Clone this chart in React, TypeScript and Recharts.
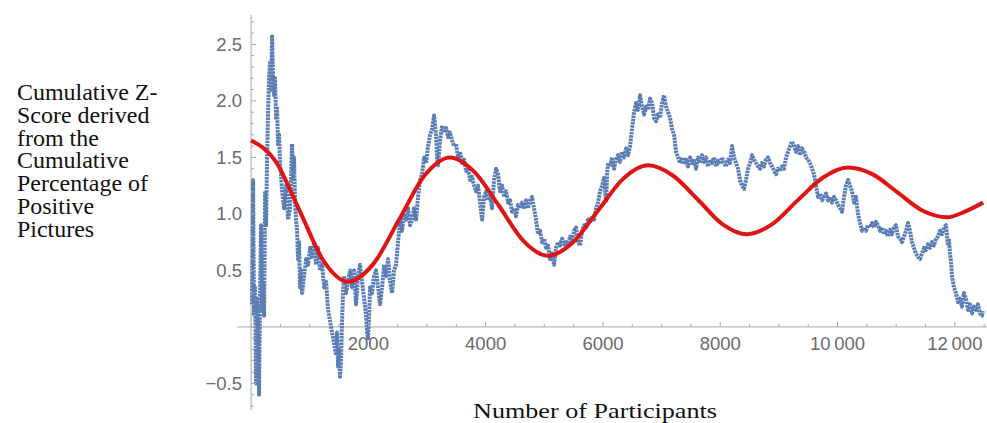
import { ComposedChart, Line, XAxis, YAxis, ReferenceLine } from "recharts";

// cumulative z-score readings: [participants, z]
const observed: [number, number][] = [
  [17, 0.2], [34, 1.3], [51, 0.1], [68, 0.35], [85, -0.5], [102, 0.25], [119, 0.05], [136, -0.6],
  [153, 0.3], [170, 0.9], [188, 0.15], [205, 0.4], [222, 0.1], [239, 1.2], [256, 0.9], [273, 1.5],
  [290, 1.9], [307, 2.2], [324, 2.35], [341, 2.1], [358, 2.57], [375, 2.2], [392, 2.05], [409, 2.2],
  [426, 1.85], [443, 1.95], [460, 1.6], [477, 1.7], [494, 1.45], [511, 1.35], [529, 1.2], [563, 1.05],
  [597, 1.25], [631, 0.95], [665, 1.05], [699, 1.62], [716, 1.3], [733, 1.5], [750, 1.1], [767, 0.95],
  [784, 0.85], [801, 0.6], [818, 0.75], [835, 0.35], [852, 0.5], [870, 0.3], [904, 0.45], [938, 0.6],
  [972, 0.55], [1006, 0.7], [1040, 0.62], [1074, 0.75], [1108, 0.55], [1142, 0.7], [1176, 0.5],
  [1211, 0.55], [1245, 0.35], [1279, 0.4], [1313, 0.15], [1347, 0.05], [1381, -0.05], [1415, -0.15],
  [1449, -0.25], [1466, -0.05], [1483, -0.35], [1500, -0.2], [1517, -0.44], [1534, -0.3], [1551, 0.05],
  [1568, 0.3], [1586, 0.45], [1620, 0.3], [1654, 0.4], [1688, 0.5], [1722, 0.35], [1756, 0.5],
  [1790, 0.2], [1824, 0.45], [1858, 0.55], [1892, 0.4], [1927, 0.25], [1961, 0.1], [1978, -0.05],
  [1995, -0.1], [2012, 0.1], [2029, 0.35], [2063, 0.3], [2097, 0.45], [2131, 0.5], [2165, 0.35],
  [2199, 0.2], [2234, 0.35], [2268, 0.55], [2302, 0.45], [2336, 0.6], [2370, 0.4], [2404, 0.3],
  [2438, 0.5], [2472, 0.55], [2506, 0.75], [2540, 0.95], [2575, 0.85], [2609, 1.0], [2643, 0.95],
  [2677, 1.05], [2711, 0.9], [2745, 0.95], [2779, 1.05], [2813, 0.95], [2847, 1.15], [2881, 1.3],
  [2916, 1.35], [2950, 1.5], [2984, 1.45], [3018, 1.6], [3052, 1.7], [3086, 1.75], [3120, 1.87],
  [3154, 1.7], [3171, 1.5], [3188, 1.43], [3222, 1.65], [3257, 1.78], [3291, 1.72], [3325, 1.76],
  [3359, 1.68], [3393, 1.72], [3427, 1.65], [3461, 1.6], [3495, 1.62], [3529, 1.5], [3563, 1.55],
  [3598, 1.45], [3632, 1.48], [3666, 1.38], [3700, 1.4], [3734, 1.3], [3768, 1.33], [3802, 1.25],
  [3836, 1.2], [3870, 1.25], [3904, 1.1], [3939, 0.95], [3973, 1.15], [4007, 1.2], [4041, 1.12],
  [4075, 1.15], [4109, 1.05], [4143, 1.3], [4177, 1.4], [4211, 1.35], [4245, 1.2], [4280, 1.25],
  [4314, 1.15], [4348, 1.2], [4382, 1.1], [4416, 1.12], [4450, 1.02], [4484, 1.05], [4518, 0.98],
  [4552, 1.08], [4586, 1.05], [4621, 1.1], [4655, 1.06], [4689, 1.12], [4723, 1.05], [4757, 1.12],
  [4791, 1.15], [4825, 1.05], [4859, 0.95], [4893, 0.82], [4928, 0.85], [4962, 0.75], [4996, 0.78],
  [5030, 0.7], [5064, 0.72], [5098, 0.6], [5132, 0.65], [5166, 0.55], [5200, 0.7], [5234, 0.75],
  [5268, 0.72], [5303, 0.78], [5337, 0.73], [5371, 0.75], [5405, 0.72], [5439, 0.8], [5473, 0.77],
  [5507, 0.85], [5541, 0.88], [5575, 0.75], [5609, 0.72], [5644, 0.85], [5678, 0.9], [5712, 0.88],
  [5746, 0.95], [5780, 0.92], [5814, 0.98], [5848, 0.95], [5882, 1.05], [5916, 1.1], [5950, 1.2],
  [5985, 1.25], [6019, 1.32], [6053, 1.1], [6070, 1.35], [6087, 1.45], [6121, 1.42], [6155, 1.5],
  [6189, 1.4], [6223, 1.48], [6257, 1.52], [6291, 1.46], [6326, 1.55], [6360, 1.5], [6394, 1.58],
  [6428, 1.52], [6462, 1.6], [6496, 1.75], [6530, 1.9], [6564, 1.98], [6598, 1.92], [6632, 2.05],
  [6667, 1.95], [6701, 1.88], [6735, 1.95], [6769, 1.92], [6803, 2.02], [6837, 1.98], [6871, 1.85],
  [6905, 1.82], [6939, 1.88], [6973, 1.85], [7007, 1.98], [7041, 2.05], [7076, 1.95], [7110, 1.9],
  [7144, 1.85], [7178, 1.75], [7212, 1.7], [7246, 1.55], [7280, 1.5], [7314, 1.45], [7348, 1.5],
  [7382, 1.44], [7417, 1.48], [7451, 1.42], [7485, 1.5], [7519, 1.45], [7553, 1.47], [7587, 1.4],
  [7621, 1.5], [7655, 1.45], [7689, 1.52], [7723, 1.46], [7757, 1.5], [7791, 1.42], [7826, 1.48],
  [7860, 1.45], [7894, 1.5], [7928, 1.42], [7962, 1.47], [7996, 1.44], [8030, 1.5], [8064, 1.45],
  [8098, 1.42], [8132, 1.48], [8166, 1.45], [8201, 1.6], [8235, 1.5], [8269, 1.45], [8303, 1.4],
  [8337, 1.3], [8371, 1.25], [8405, 1.22], [8439, 1.3], [8473, 1.4], [8508, 1.45], [8542, 1.52],
  [8576, 1.48], [8610, 1.45], [8644, 1.42], [8678, 1.4], [8712, 1.45], [8746, 1.42], [8780, 1.48],
  [8815, 1.5], [8849, 1.45], [8883, 1.42], [8917, 1.38], [8951, 1.35], [8985, 1.4], [9019, 1.38],
  [9053, 1.42], [9087, 1.4], [9121, 1.5], [9156, 1.55], [9190, 1.6], [9224, 1.64], [9258, 1.6],
  [9292, 1.55], [9326, 1.6], [9360, 1.52], [9394, 1.58], [9428, 1.55], [9463, 1.5], [9497, 1.48],
  [9531, 1.45], [9565, 1.4], [9599, 1.35], [9633, 1.25], [9667, 1.15], [9701, 1.18], [9735, 1.12],
  [9769, 1.15], [9804, 1.18], [9838, 1.12], [9872, 1.15], [9906, 1.1], [9940, 1.15], [9974, 1.12],
  [10008, 1.08], [10042, 1.05], [10076, 1.02], [10110, 1.15], [10144, 1.25], [10178, 1.3],
  [10212, 1.25], [10246, 1.2], [10280, 1.1], [10314, 1.15], [10349, 1.0], [10383, 0.92],
  [10417, 0.85], [10451, 0.88], [10485, 0.85], [10519, 0.9], [10553, 0.88], [10587, 0.92],
  [10621, 0.88], [10656, 0.93], [10690, 0.9], [10724, 0.85], [10758, 0.88], [10792, 0.82],
  [10826, 0.85], [10860, 0.8], [10894, 0.86], [10928, 0.82], [10962, 0.88], [10996, 0.9],
  [11030, 0.8], [11065, 0.78], [11099, 0.75], [11133, 0.8], [11167, 0.85], [11201, 0.92],
  [11235, 0.85], [11269, 0.75], [11303, 0.7], [11337, 0.65], [11371, 0.62], [11406, 0.6],
  [11440, 0.65], [11474, 0.7], [11508, 0.68], [11542, 0.73], [11576, 0.7], [11610, 0.75],
  [11644, 0.72], [11678, 0.78], [11712, 0.8], [11747, 0.85], [11781, 0.82], [11815, 0.88],
  [11849, 0.9], [11883, 0.72], [11900, 0.78], [11917, 0.65], [11934, 0.58], [11951, 0.45],
  [11985, 0.35], [12019, 0.3], [12053, 0.22], [12087, 0.25], [12121, 0.18], [12155, 0.3],
  [12190, 0.25], [12224, 0.15], [12258, 0.2], [12292, 0.12], [12326, 0.18], [12360, 0.15],
  [12394, 0.2], [12428, 0.12], [12462, 0.1], [12479, 0.14],
];

// smooth red fit curve readings
const fitted: [number, number][] = [
  [0, 1.65], [414, 1.47], [827, 1.03], [1241, 0.58], [1654, 0.4], [2089, 0.56], [2524, 0.95],
  [2958, 1.34], [3393, 1.5], [3811, 1.37], [4229, 1.07], [4646, 0.76], [5064, 0.63], [5490, 0.75],
  [5917, 1.03], [6343, 1.31], [6769, 1.43], [7191, 1.34], [7613, 1.13], [8035, 0.91], [8457, 0.82],
  [8887, 0.91], [9318, 1.12], [9748, 1.32], [10179, 1.41], [10601, 1.35], [11023, 1.19],
  [11445, 1.03], [11867, 0.97], [12170, 1.02], [12481, 1.1],
];

const xTicks = [0, 500, 1000, 1500, 2000, 2500, 3000, 3500, 4000, 4500, 5000, 5500, 6000, 6500,
  7000, 7500, 8000, 8500, 9000, 9500, 10000, 10500, 11000, 11500, 12000, 12500];
const xTickLabels: Record<number, string> = {
  2000: "2000", 4000: "4000", 6000: "6000", 8000: "8000", 10000: "10\u2009000", 12000: "12\u2009000",
};
const yTicks = [-0.7, -0.6, -0.5, -0.4, -0.3, -0.2, -0.1, 0, 0.1, 0.2, 0.3, 0.4, 0.5, 0.6, 0.7, 0.8,
  0.9, 1.0, 1.1, 1.2, 1.3, 1.4, 1.5, 1.6, 1.7, 1.8, 1.9, 2.0, 2.1, 2.2, 2.3, 2.4, 2.5, 2.6, 2.7];
const yTickLabels: Record<string, string> = {
  "-0.5": "\u22120.5", "0.5": "0.5", "1": "1.0", "1.5": "1.5", "2": "2.0", "2.5": "2.5",
};
const yLabelLines = ["Cumulative Z-", "Score derived", "from the", "Cumulative", "Percentage of", "Positive", "Pictures"];
const xLabel = "Number of Participants";

const W = 987;
const H = 423;
const M = { top: 15, right: 0, bottom: 13, left: 237 };
const X_DOMAIN: [number, number] = [-240, 12548];
const Y_DOMAIN: [number, number] = [-0.735, 2.76];
const plotW = W - M.left - M.right;
const plotH = H - M.top - M.bottom;
const AXIS_Y = M.top + (Y_DOMAIN[1] / (Y_DOMAIN[1] - Y_DOMAIN[0])) * plotH;
const AXIS_X = M.left + (-X_DOMAIN[0] / (X_DOMAIN[1] - X_DOMAIN[0])) * plotW;

const AXIS_COLOR = "#a8a8a8";
const TICK_TEXT = "#6a6a6a";
const TICK_FONT = "'Liberation Sans', Arial, sans-serif";
const SERIF = "'Liberation Serif', 'Times New Roman', serif";

const observedData = observed.map(([n, z]) => ({ n, z }));
const fittedData = fitted.map(([n, z]) => ({ n, z }));

const renderXTick = (props: any) => {
  const { x, payload, index } = props;
  const v = payload.value as number;
  const label = xTickLabels[v];
  return (
    <g key={`xt-${index}`}>
      <line x1={x} x2={x} y1={AXIS_Y} y2={AXIS_Y - (label ? 5 : 3)} stroke={AXIS_COLOR} />
      {label && (
        <text x={x} y={AXIS_Y + 23} textAnchor="middle" fill={TICK_TEXT} fontSize={18.5} fontFamily={TICK_FONT}>
          {label}
        </text>
      )}
    </g>
  );
};

const renderYTick = (props: any) => {
  const { y, payload, index } = props;
  const v = Math.round((payload.value as number) * 10) / 10;
  const major = Math.abs(v * 2 - Math.round(v * 2)) < 1e-6;
  const label = yTickLabels[String(v)];
  return (
    <g key={`yt-${index}`}>
      <line x1={AXIS_X} x2={AXIS_X + (major ? 5 : 3)} y1={y} y2={y} stroke={AXIS_COLOR} />
      {label && (
        <text x={AXIS_X - 9} y={y + 6.5} textAnchor="end" fill={TICK_TEXT} fontSize={18.5} fontFamily={TICK_FONT}>
          {label}
        </text>
      )}
    </g>
  );
};

export default function App() {
  return (
    <div style={{ position: "absolute", left: 0, top: 0, width: W, height: H, background: "#fff" }}>
      <ComposedChart width={W} height={H} margin={{ top: M.top, right: M.right, bottom: M.bottom - 2, left: M.left - 2 }}>
        <XAxis
          dataKey="n"
          type="number"
          domain={X_DOMAIN}
          allowDataOverflow
          ticks={xTicks}
          interval={0}
          height={2}
          axisLine={false}
          tickLine={false}
          tick={renderXTick}
        />
        <YAxis
          type="number"
          domain={Y_DOMAIN}
          allowDataOverflow
          ticks={yTicks}
          interval={0}
          width={2}
          axisLine={false}
          tickLine={false}
          tick={renderYTick}
        />
        <ReferenceLine x={0} stroke={AXIS_COLOR} strokeWidth={1} />
        <ReferenceLine y={0} stroke={AXIS_COLOR} strokeWidth={1} />
        <Line
          data={observedData}
          dataKey="z"
          type="linear"
          stroke="#5a7db5"
          strokeWidth={4}
          strokeLinejoin="round"
          strokeDasharray="2.5 0.8"
          dot={false}
          isAnimationActive={false}
        />
        <Line
          data={fittedData}
          dataKey="z"
          type="monotone"
          stroke="#e01414"
          strokeWidth={4}
          dot={false}
          isAnimationActive={false}
        />
      </ComposedChart>
      <svg width={W} height={H} style={{ position: "absolute", left: 0, top: 0, pointerEvents: "none" }}>
        <g transform="translate(17,0) scale(1.065,1)">
          {yLabelLines.map((t, i) => (
            <text key={t + i} x={0} y={100 + i * 22.8} fontSize={22.5} fontFamily={SERIF} fill="#111">
              {t}
            </text>
          ))}
        </g>
        <text x={473} y={418} fontSize={21.5} fontFamily={SERIF} fill="#111" textLength={244} lengthAdjust="spacingAndGlyphs">
          {xLabel}
        </text>
      </svg>
    </div>
  );
}
